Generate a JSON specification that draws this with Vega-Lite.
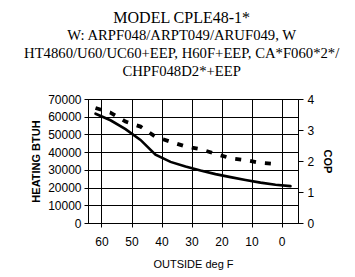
{
  "$schema": "https://vega.github.io/schema/vega-lite/v6.json",
  "width": 210,
  "height": 124,
  "autosize": "none",
  "padding": {"left": 88, "top": 99, "right": 57, "bottom": 54},
  "background": "white",
  "title": {
    "text": "MODEL CPLE48-1*",
    "subtitle": ["W: ARPF048/ARPT049/ARUF049, W", "HT4860/U60/UC60+EEP, H60F+EEP, CA*F060*2*/", "CHPF048D2*+EEP"],
    "font": "Liberation Serif",
    "fontSize": 16,
    "fontWeight": "normal",
    "color": "black",
    "subtitleFont": "Liberation Serif",
    "subtitleFontSize": 14.7,
    "subtitleColor": "black",
    "subtitleLineHeight": 18,
    "subtitlePadding": 2,
    "anchor": "middle",
    "frame": "bounds",
    "offset": 14
  },
  "data": {
    "values": [
      {"deg": 62, "btuh": 61700, "cop": 3.71},
      {"deg": 57, "btuh": 58000, "cop": 3.56},
      {"deg": 52, "btuh": 53000, "cop": 3.27},
      {"deg": 47, "btuh": 46900, "cop": 3.11},
      {"deg": 42, "btuh": 38600, "cop": 2.78},
      {"deg": 37, "btuh": 34500, "cop": 2.62},
      {"deg": 32, "btuh": 31900, "cop": 2.47},
      {"deg": 27, "btuh": 29600, "cop": 2.38},
      {"deg": 22, "btuh": 27600, "cop": 2.23},
      {"deg": 17, "btuh": 25900, "cop": 2.09},
      {"deg": 12, "btuh": 24300, "cop": 2.03},
      {"deg": 7, "btuh": 22800, "cop": 1.94},
      {"deg": 2, "btuh": 21600, "cop": 1.90},
      {"deg": -3, "btuh": 20800, "cop": null}
    ]
  },
  "layer": [
    {
      "mark": {"type": "line", "color": "black", "strokeWidth": 2.6, "strokeCap": "round", "clip": false},
      "encoding": {
        "x": {
          "field": "deg",
          "type": "quantitative",
          "scale": {"domain": [-5.5, 64.5], "reverse": true, "nice": false, "zero": false},
          "axis": {
            "title": "OUTSIDE deg F",
            "tickCount": 7,
            "grid": true,
            "gridColor": "black",
            "gridWidth": 1,
            "domainColor": "black",
            "tickColor": "black",
            "tickSize": 4,
            "labelFont": "Liberation Sans",
            "labelFontSize": 12,
            "labelColor": "black",
            "labelPadding": 9,
            "titleFont": "Liberation Sans",
            "titleFontSize": 11,
            "titleFontWeight": "normal",
            "titleColor": "black",
            "titlePadding": 11
          }
        },
        "y": {
          "field": "btuh",
          "type": "quantitative",
          "scale": {"domain": [0, 70000], "nice": false},
          "axis": {
            "title": "HEATING BTUH",
            "orient": "left",
            "values": [0, 10000, 20000, 30000, 40000, 50000, 60000, 70000],
            "format": "d",
            "grid": true,
            "gridColor": "black",
            "gridWidth": 1,
            "domainColor": "black",
            "tickColor": "black",
            "tickSize": 4,
            "labelFont": "Liberation Sans",
            "labelFontSize": 12,
            "labelColor": "black",
            "labelPadding": 3,
            "titleFont": "Liberation Sans",
            "titleFontSize": 11,
            "titleFontWeight": "bold",
            "titleColor": "black",
            "titlePadding": 6
          }
        }
      }
    },
    {
      "mark": {"type": "line", "color": "black", "strokeWidth": 3.8, "strokeDash": [6, 9], "strokeCap": "butt", "clip": false},
      "encoding": {
        "x": {"field": "deg", "type": "quantitative", "axis": null},
        "y": {
          "field": "cop",
          "type": "quantitative",
          "scale": {"domain": [0, 4], "nice": false},
          "axis": {
            "title": "COP",
            "orient": "right",
            "values": [0, 1, 2, 3, 4],
            "grid": false,
            "domainColor": "black",
            "tickColor": "black",
            "tickSize": 5,
            "labelFont": "Liberation Sans",
            "labelFontSize": 12,
            "labelColor": "black",
            "labelPadding": 4,
            "titleFont": "Liberation Sans",
            "titleFontSize": 11,
            "titleFontWeight": "bold",
            "titleColor": "black",
            "titlePadding": 8
          }
        }
      }
    }
  ],
  "resolve": {"scale": {"y": "independent"}, "axis": {"x": "independent"}},
  "config": {"view": {"stroke": "black", "strokeWidth": 1}}
}
